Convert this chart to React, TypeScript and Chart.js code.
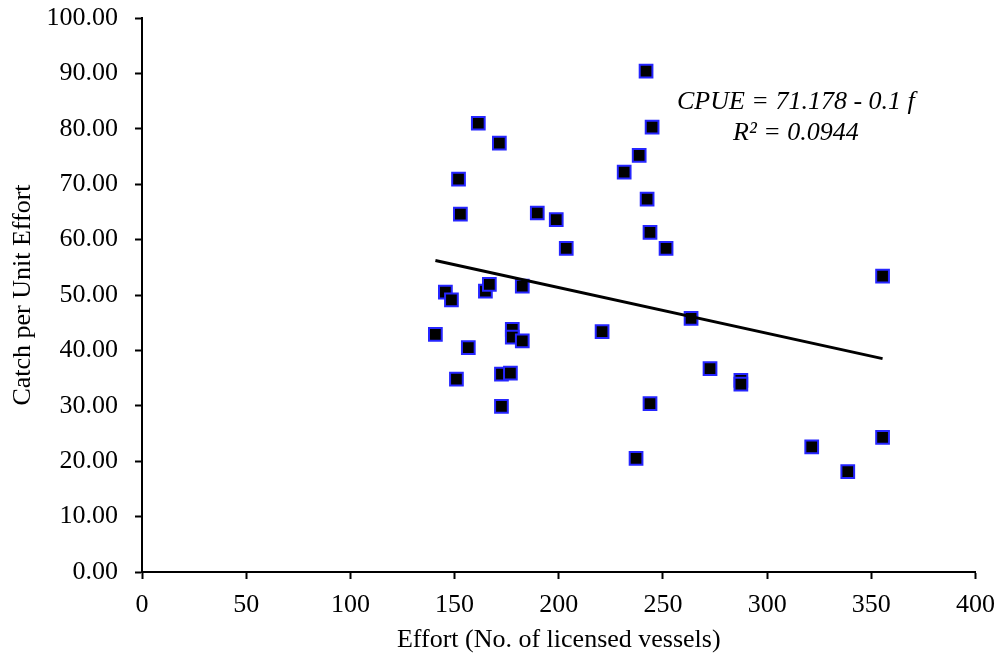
import React, { useEffect, useRef } from "react";
import { Chart, registerables } from "chart.js";

Chart.register(...registerables);

// Fishing effort (number of licensed vessels) per year
const effort = [
  241.9, 161.4, 171.5, 244.8, 238.6, 231.4, 151.9, 242.4, 152.8, 189.7,
  198.8, 243.8, 251.5, 203.6, 145.6, 148.5, 164.8, 166.7, 182.5, 140.8,
  156.6, 177.7, 177.7, 182.5, 220.8, 263.5, 272.6, 150.9, 172.5, 176.8,
  172.5, 243.8, 237.1, 355.4, 287.4, 287.4, 321.4, 338.7, 355.4,
];

// Catch per unit effort for the same years
const cpue = [
  90.4, 81.0, 77.4, 80.3, 75.2, 72.2, 70.9, 67.3, 64.6, 64.8,
  63.6, 61.3, 58.4, 58.4, 50.5, 49.1, 50.7, 51.9, 51.6, 42.9,
  40.5, 43.8, 42.4, 41.7, 43.4, 45.8, 36.7, 34.8, 35.7, 35.9,
  29.9, 30.4, 20.5, 53.4, 34.6, 33.9, 22.6, 18.1, 24.3,
];

const equationLines = ["CPUE = 71.178 - 0.1 f", "R\u00b2 = 0.0944"];

const X_TITLE = "Effort (No. of licensed vessels)";
const Y_TITLE = "Catch per Unit Effort";

const FONT_FAMILY = "'Liberation Serif', 'Times New Roman', serif";

// Ordinary least-squares fit of CPUE against effort
function linearFit(xs: number[], ys: number[]) {
  const n = xs.length;
  const mx = xs.reduce((a, b) => a + b, 0) / n;
  const my = ys.reduce((a, b) => a + b, 0) / n;
  let sxy = 0;
  let sxx = 0;
  for (let i = 0; i < n; i++) {
    sxy += (xs[i] - mx) * (ys[i] - my);
    sxx += (xs[i] - mx) * (xs[i] - mx);
  }
  const slope = sxy / sxx;
  return { slope, intercept: my - slope * mx };
}

// Draws the regression equation as two centred italic lines
const equationPlugin = {
  id: "equationLabel",
  afterDatasetsDraw(chart: any, _args: any, opts: any) {
    const { ctx, scales } = chart;
    const cx = scales.x.getPixelForValue(opts.x);
    const cy = scales.y.getPixelForValue(opts.y);
    ctx.save();
    ctx.fillStyle = "#000";
    ctx.font = `italic 26px ${FONT_FAMILY}`;
    ctx.textAlign = "center";
    ctx.textBaseline = "middle";
    equationLines.forEach((line, i) => {
      ctx.fillText(line, cx, cy + i * opts.lineGap);
    });
    ctx.restore();
  },
};

export default function App() {
  const canvasRef = useRef<HTMLCanvasElement | null>(null);

  useEffect(() => {
    if (!canvasRef.current) return;
    const points = effort.map((x, i) => ({ x, y: cpue[i] }));
    const { slope, intercept } = linearFit(effort, cpue);
    const xMin = Math.min(...effort);
    const xMax = Math.max(...effort);
    const trend = [
      { x: xMin, y: intercept + slope * xMin },
      { x: xMax, y: intercept + slope * xMax },
    ];

    const tickFont = { family: FONT_FAMILY, size: 26 };

    const chart = new Chart(canvasRef.current, {
      type: "scatter",
      data: {
        datasets: [
          {
            type: "line",
            label: "Trend",
            data: trend,
            borderColor: "#000",
            borderWidth: 3,
            pointRadius: 0,
            fill: false,
            order: 0,
          } as any,
          {
            label: "CPUE",
            data: points,
            pointStyle: "rect",
            pointRadius: 9,
            backgroundColor: "#000",
            borderColor: "#2626ff",
            pointBackgroundColor: "#000",
            pointBorderColor: "#2626ff",
            borderWidth: 2,
            pointBorderWidth: 2,
            order: 1,
          } as any,
        ],
      },
      options: {
        responsive: false,
        animation: false,
        layout: { padding: { left: 0, top: 18, right: 29, bottom: 0 } },
        plugins: {
          legend: { display: false },
          tooltip: { enabled: false },
          equationLabel: { x: 313.8, y: 84.8, lineGap: 31 },
        } as any,
        scales: {
          x: {
            type: "linear",
            min: 0,
            max: 400,
            afterFit: (scale: any) => {
              scale.height = 84;
            },
            ticks: {
              stepSize: 50,
              color: "#000",
              font: tickFont,
              padding: 11,
              maxRotation: 0,
            },
            grid: {
              drawOnChartArea: false,
              drawTicks: true,
              tickLength: 7,
              tickColor: "#000",
              tickWidth: 2,
            },
            border: { display: true, color: "#000", width: 2 },
            title: {
              display: true,
              text: X_TITLE,
              color: "#000",
              font: tickFont,
              padding: { top: 0, bottom: 0 },
            },
          },
          y: {
            type: "linear",
            min: 0,
            max: 100,
            afterFit: (scale: any) => {
              scale.width = 142;
              scale.paddingTop = 0;
              scale.paddingBottom = 0;
            },
            ticks: {
              stepSize: 10,
              color: "#000",
              font: tickFont,
              padding: 17,
              callback: (v: any) => Number(v).toFixed(2),
            },
            grid: {
              drawOnChartArea: false,
              drawTicks: true,
              tickLength: 7,
              tickColor: "#000",
              tickWidth: 2,
            },
            border: { display: true, color: "#000", width: 2 },
            title: {
              display: true,
              text: Y_TITLE,
              color: "#000",
              font: tickFont,
              padding: { top: 8, bottom: 0 },
            },
          },
        },
      },
      plugins: [equationPlugin],
    });

    return () => chart.destroy();
  }, []);

  return (
    <div
      style={{
        position: "fixed",
        left: 0,
        top: 0,
        width: 1006,
        height: 656,
        background: "#fff",
      }}
    >
      <canvas ref={canvasRef} width={1006} height={656} />
    </div>
  );
}
